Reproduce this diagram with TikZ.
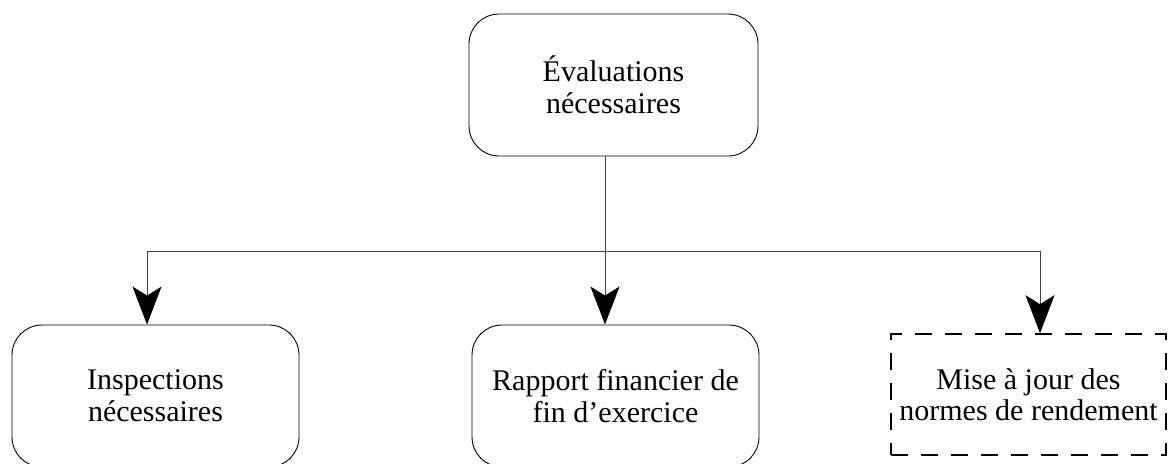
\documentclass[tikz,border=0pt]{standalone}
\usepackage{fontspec}
\setmainfont{Liberation Serif}
\usetikzlibrary{arrows.meta}
\begin{document}
\begin{tikzpicture}[x=1pt,y=-1pt,
  box/.style={draw=black, line width=0.9pt, rounded corners=30pt,
    inner sep=0pt, align=center, font=\fontsize{30}{32}\selectfont},
  dashbox/.style={draw=black, line width=1.6pt, dash pattern=on 17pt off 13pt,
    dash phase=0pt, inner sep=0pt, align=center, font=\fontsize{30}{31}\selectfont},
  link/.style={draw=black!75, line width=0.9pt},
  arrow/.style={link, -{Stealth[length=38pt,width=29pt,inset=9pt,color=black]}}]
  \useasboundingbox (0,0) rectangle (1172,463);

  \node[box, minimum width=289pt, minimum height=142pt] (eval) at (613.5,85)
    {Évaluations\\nécessaires};
  \node[box, minimum width=287pt, minimum height=142pt] (insp) at (155.5,396)
    {Inspections\\nécessaires};
  \node[box, minimum width=287pt, minimum height=142pt] (rapp) at (615.5,396)
    {Rapport financier de\\fin d’exercice};
  \node[dashbox, minimum width=275pt, minimum height=121pt] (norm) at (1028.5,394.5)
    {Mise à jour des\\normes de rendement};

  \coordinate (mid) at (605,251);
  \coordinate (left) at (147,251);
  \coordinate (right) at (1040,251);

  \draw[link] (eval.south -| mid) -- (mid);
  \draw[link] (left) -- (right);
  \draw[arrow] (left) -- (insp.north -| left);
  \draw[arrow] (mid) -- (rapp.north -| mid);
  \draw[arrow] (right) -- (norm.north -| right);
\end{tikzpicture}
\end{document}
